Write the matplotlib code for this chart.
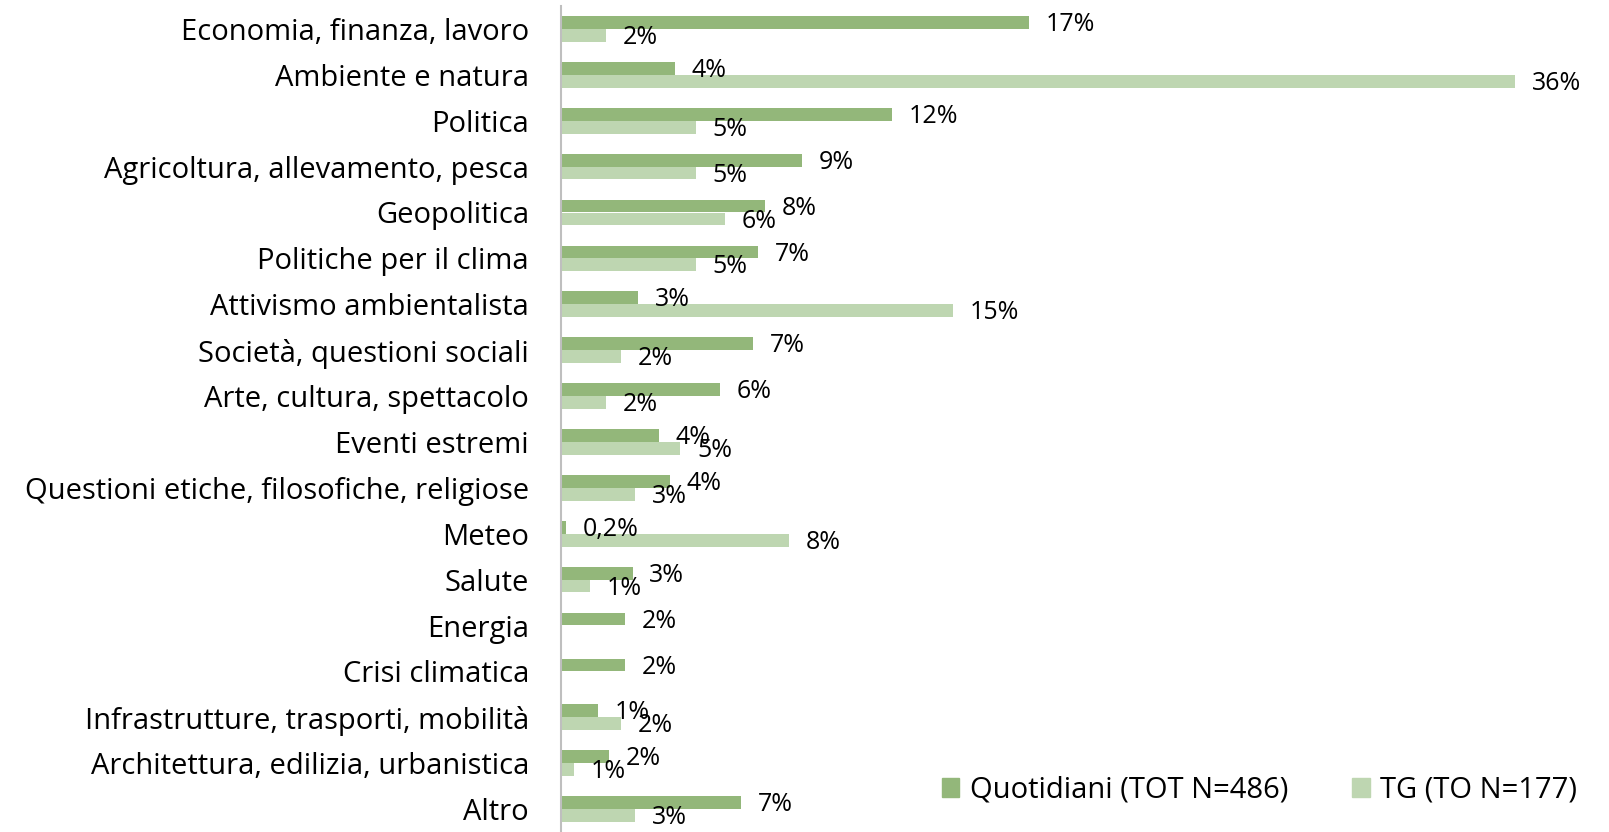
import numpy as np
import matplotlib.pyplot as plt
from matplotlib.patches import Patch

plt.rcParams['font.family'] = ['Open Sans', 'DejaVu Sans']

categories = ["Economia, finanza, lavoro", "Ambiente e natura", "Politica",
              "Agricoltura, allevamento, pesca", "Geopolitica", "Politiche per il clima",
              "Attivismo ambientalista", "Società, questioni sociali",
              "Arte, cultura, spettacolo", "Eventi estremi",
              "Questioni etiche, filosofiche, religiose", "Meteo", "Salute", "Energia",
              "Crisi climatica", "Infrastrutture, trasporti, mobilità",
              "Architettura, edilizia, urbanistica", "Altro"]

# bar lengths (percent)
quotidiani = [17.65, 4.3, 12.5, 9.1, 7.7, 7.45, 2.9, 7.25, 6.0, 3.7, 4.1, 0.2, 2.7, 2.4, 2.4, 1.4, 1.8, 6.8]
tg = [1.7, 36.0, 5.1, 5.1, 6.2, 5.1, 14.8, 2.25, 1.7, 4.5, 2.8, 8.6, 1.1, 0, 0, 2.25, 0.5, 2.8]

# printed labels
quot_labels = ['17%', '4%', '12%', '9%', '8%', '7%', '3%', '7%', '6%', '4%', '4%', '0,2%',
               '3%', '2%', '2%', '1%', '2%', '7%']
tg_labels = ['2%', '36%', '5%', '5%', '6%', '5%', '15%', '2%', '2%', '5%', '3%', '8%',
             '1%', '', '', '2%', '1%', '3%']

dark = '#93B77A'
light = '#BED6B1'

fig = plt.figure(figsize=(16.09, 8.32), dpi=100)
ax = fig.add_axes([561 / 1609, 0.0, 1007 / 1609, 826 / 832])

y = np.arange(len(categories))
h = 0.28
ax.barh(y - h / 2, quotidiani, height=h, color=dark, label='Quotidiani (TOT N=486)')
ax.barh(y + h / 2, tg, height=h, color=light, label='TG (TO N=177)')

for i in range(len(categories)):
    if quot_labels[i]:
        ax.annotate(quot_labels[i], (quotidiani[i], y[i] - h / 2), xytext=(12, -1.5),
                    textcoords='offset points', ha='left', va='center', fontsize=18)
    if tg_labels[i]:
        ax.annotate(tg_labels[i], (tg[i], y[i] + h / 2), xytext=(12, -1.5),
                    textcoords='offset points', ha='left', va='center', fontsize=18)

ax.set_xlim(0, 38)
ax.set_ylim(len(categories) - 0.5, -0.5)
ax.set_yticks(y)
ax.set_yticklabels(categories, fontsize=21)
ax.tick_params(axis='y', length=0, pad=23)
ax.set_xticks([])
for s in ['top', 'right', 'bottom']:
    ax.spines[s].set_visible(False)
ax.spines['left'].set_color('#BFBFBF')
ax.spines['left'].set_linewidth(1.5)

handles = [Patch(color=dark), Patch(color=light)]
fig.legend(handles, ['Quotidiani (TOT N=486)', 'TG (TO N=177)'], ncol=2, frameon=False,
           loc='center right', bbox_to_anchor=(0.980, 0.05), fontsize=21,
           handlelength=0.6, handleheight=0.6, handletextpad=0.35, columnspacing=2.2,
           borderaxespad=0, borderpad=0)

fig.savefig('out.png', dpi=100)
